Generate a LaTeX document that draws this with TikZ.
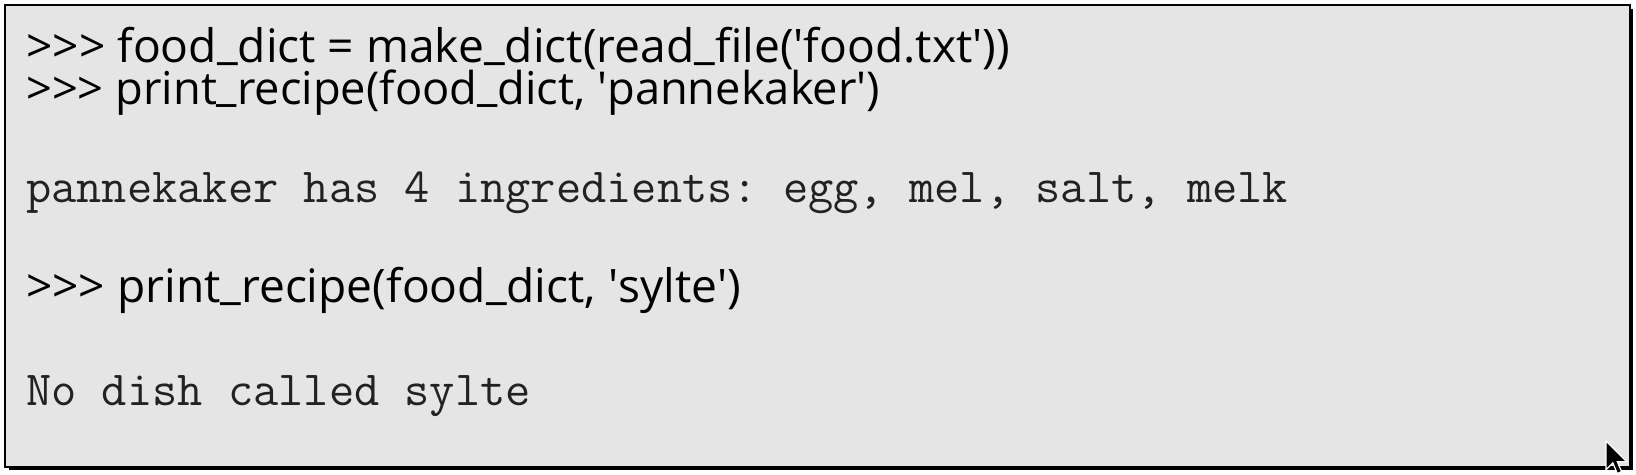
\documentclass[tikz,border=0pt]{standalone}
\usepackage{fontspec}
\setmainfont{Open Sans}
\definecolor{boxgray}{HTML}{E5E5E5}
\definecolor{monotext}{HTML}{222222}
\tikzset{
  sansline/.style={anchor=base west, inner sep=0pt, font=\fontsize{40}{40}\selectfont},
  monoline/.style={anchor=base west, inner sep=0pt, text=monotext, font=\ttfamily\fontsize{49}{49}\selectfont\frenchspacing},
  panel/.style={draw=black, line width=2.5pt, fill=boxgray}
}
\newcommand{\sq}{\textquotesingle}
\newcommand{\us}{\raisebox{0.08em}{\_}}
\newcommand{\prompt}{>{}>{}>}
\begin{document}
\begin{tikzpicture}[x=1pt,y=-1pt]
\useasboundingbox (0,0) rectangle (1636,474);
\fill[white] (0,0) rectangle (1636,474);
% shadow on right and bottom
\fill[black] (9,9) rectangle (1633,470);
\draw[panel] (5,5) rectangle (1630,467);
\node[sansline] (l1) at (26,62) {\resizebox{984pt}{!}{\prompt{} food\us dict = make\us dict(read\us file(\sq food.txt\sq))}};
\node[sansline] (l2) at (26,104) {\resizebox{854pt}{!}{\prompt{} print\us recipe(food\us dict, \sq pannekaker\sq)}};
\node[monoline] (m1) at (26,202) {pannekaker has 4 ingredients: egg, mel, salt, melk};
\node[sansline] (l4) at (26,302) {\resizebox{715pt}{!}{\prompt{} print\us recipe(food\us dict, \sq sylte\sq)}};
\node[monoline] (m2) at (26,405) {No dish called sylte};
% mouse cursor
\begin{scope}[shift={(1606,441)}, scale=1.25]
\filldraw[fill=black, draw=white, line width=1.2pt, line join=miter]
  (0,0) -- (0,23) -- (5.5,17.5) -- (9,26) -- (12.5,24.5) -- (9,16.5) -- (16.5,16.5) -- cycle;
\end{scope}
\end{tikzpicture}
\end{document}
